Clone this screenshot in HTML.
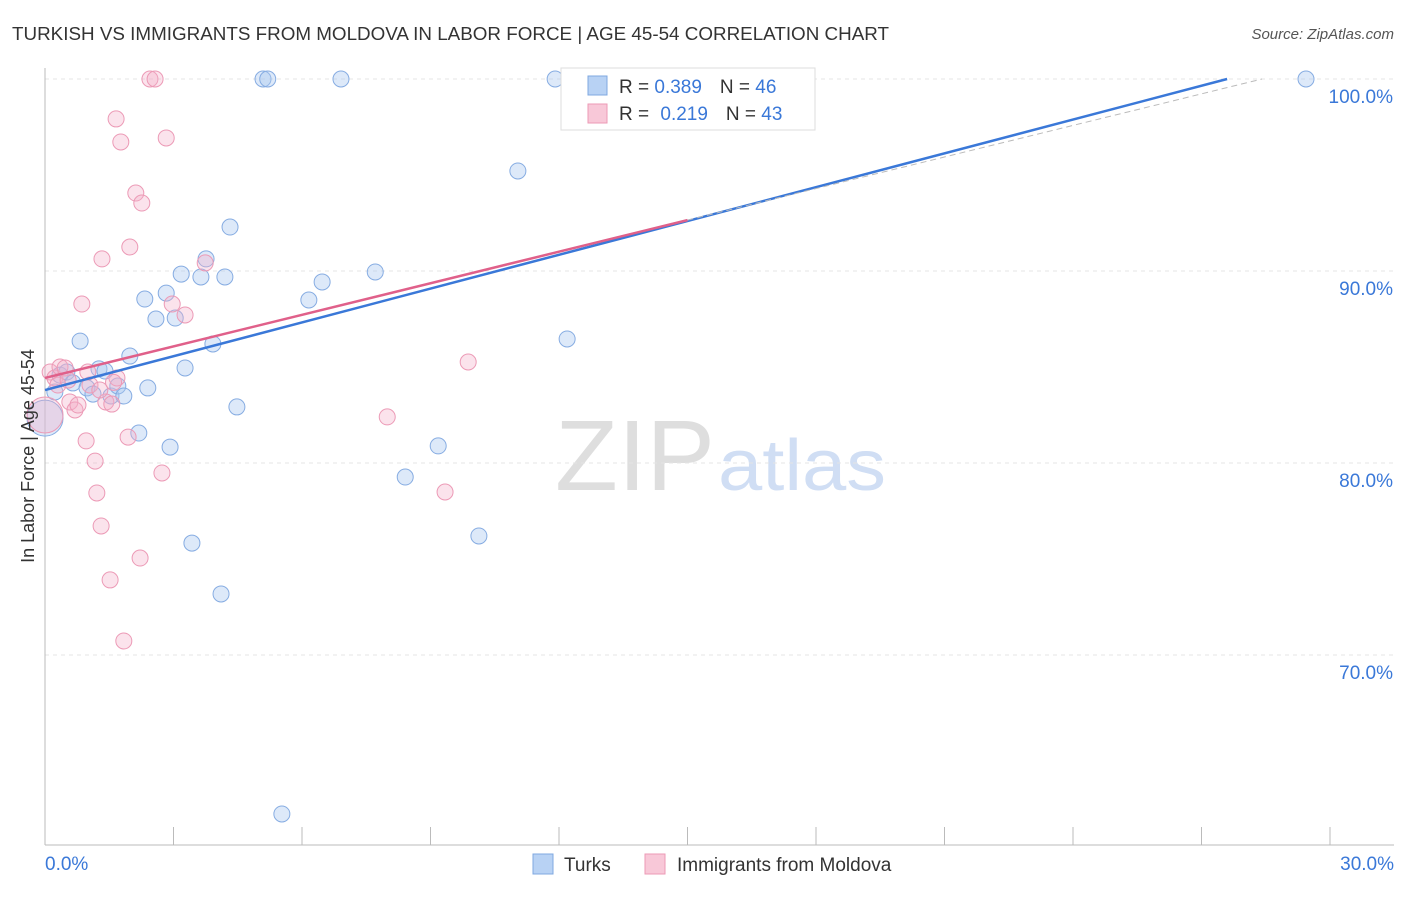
<!DOCTYPE html>
<html><head><meta charset="utf-8"><style>
body{margin:0;background:#fff;font-family:"Liberation Sans",sans-serif}
svg text{font-family:"Liberation Sans",sans-serif}
</style></head><body>
<svg id="chart" width="1406" height="892">
<text x="12" y="40" font-size="18" fill="#333" textLength="877" lengthAdjust="spacingAndGlyphs">TURKISH VS IMMIGRANTS FROM MOLDOVA IN LABOR FORCE | AGE 45-54 CORRELATION CHART</text>
<text x="1394" y="39" font-size="15" fill="#555" font-style="italic" text-anchor="end">Source: ZipAtlas.com</text>
<text x="555" y="490" font-size="100" fill="#dedede" textLength="160" lengthAdjust="spacingAndGlyphs" font-family="Liberation Serif">ZIP</text>
<text x="718" y="490" font-size="72" fill="#d0def4" textLength="168" lengthAdjust="spacingAndGlyphs">atlas</text>
<g id="grid"></g><g id="axes"></g><g id="marks"></g>
<text transform="translate(34,456) rotate(-90)" font-size="18" fill="#333" text-anchor="middle">In Labor Force | Age 45-54</text>
<g>
<rect x="561" y="68" width="254" height="62" fill="#fff" stroke="#ddd"/>
<rect x="588" y="76" width="19" height="19" fill="#b8d2f4" stroke="#7fa8e0"/>
<text x="619" y="93" font-size="19" fill="#333">R = <tspan fill="#3a78d8">0.389</tspan><tspan dx="18">N = </tspan><tspan fill="#3a78d8">46</tspan></text>
<rect x="588" y="104" width="19" height="19" fill="#f8c8d8" stroke="#ec9ab6"/>
<text x="619" y="120" font-size="19" fill="#333">R = <tspan dx="6" fill="#3a78d8">0.219</tspan><tspan dx="18">N = </tspan><tspan fill="#3a78d8">43</tspan></text>
</g>
<g>
<rect x="533" y="854" width="20" height="20" fill="#b8d2f4" stroke="#7fa8e0"/>
<text x="564" y="871" font-size="19" fill="#333">Turks</text>
<rect x="645" y="854" width="20" height="20" fill="#f8c8d8" stroke="#ec9ab6"/>
<text x="677" y="871" font-size="19" fill="#333">Immigrants from Moldova</text>
</g>
</svg>
<script>
const yTicks=[70,80,90,100];
const xTickLabels=["0.0%","30.0%"];
const turksX=[0.00,0.23,0.35,0.51,0.65,0.82,0.98,1.12,1.26,1.40,1.54,1.70,1.84,1.98,2.19,2.33,2.40,2.59,2.83,2.92,3.04,3.18,3.27,3.43,3.64,3.76,3.92,4.11,4.20,4.32,4.48,5.09,5.20,5.53,6.16,6.47,6.91,7.71,8.41,9.18,10.13,11.04,11.91,12.19,12.31,29.44];
const turksY=[82.34,83.70,84.58,84.74,84.17,86.35,83.91,83.59,84.90,84.79,83.49,84.01,83.49,85.57,81.56,88.54,83.91,87.50,88.85,80.83,87.55,89.84,84.95,75.83,89.69,90.63,86.20,73.18,89.69,92.29,82.92,100,100,61.72,88.49,89.43,100,89.95,79.27,80.89,76.20,95.21,100,86.46,100,100];
const moldX=[0.00,0.12,0.23,0.35,0.47,0.58,0.70,0.77,0.86,0.96,1.05,1.17,1.21,1.31,1.33,1.42,1.52,1.56,1.66,1.68,1.77,1.84,1.94,1.98,2.12,2.22,2.26,2.45,2.57,2.73,2.83,2.97,3.27,3.74,7.99,9.34,9.88,13.66,0.30,0.54,1.00,1.28,1.60];
const moldY=[82.50,84.74,84.43,85.00,84.95,83.18,82.76,83.02,88.28,81.15,84.06,80.10,78.44,76.72,90.63,83.18,73.91,83.07,97.92,84.43,96.72,70.73,81.35,91.25,94.06,75.05,93.54,100,100,79.48,96.93,88.28,87.71,90.42,82.40,78.49,85.26,100,84.06,84.32,84.74,83.80,84.20];
const turksTrend=[83.8,0.587];
const moldTrend=[84.43,0.548];
const X=v=>45+v*42.833, Y=v=>79+(100-v)*19.2;
const NS="http://www.w3.org/2000/svg";
function mk(tag,attrs,parent){const e=document.createElementNS(NS,tag);for(const k in attrs)e.setAttribute(k,attrs[k]);document.getElementById(parent).appendChild(e);return e;}
yTicks.forEach(t=>{
 const l=mk('line',{x1:45,x2:1394,y1:Y(t),y2:Y(t),stroke:'#e4e4e4','stroke-dasharray':'4,4'},'grid');
 
 
 const tx=mk('text',{x:1393,y:Y(t)+24,'font-size':19,fill:'#3a78d8','text-anchor':'end'},'axes');
 tx.textContent=t.toFixed(1)+'%';
 
 
});
mk('line',{x1:45,x2:45,y1:68,y2:845,stroke:'#bbb'},'axes');
mk('line',{x1:45,x2:1394,y1:845,y2:845,stroke:'#bbb'},'axes');
for(let i=0;i<=10;i++){const x=X(i*3);const l=mk('line',{x1:x,x2:x,y1:827,y2:845,stroke:'#bbb'},'axes');}
[[0,'start',45],[30,'end',1394]].forEach((d,i)=>{const t=mk('text',{x:d[2],y:870,'font-size':19,fill:'#3a78d8','text-anchor':d[1]},'axes');t.textContent=xTickLabels[i];});
function pts(xs,ys,fill,stroke,name){xs.forEach((x,i)=>{const c=mk('circle',{cx:X(x),cy:Y(ys[i]),r:i==0?18:8,fill:fill,stroke:stroke,'stroke-width':1},'marks');});}
pts(turksX,turksY,'rgba(170,200,240,0.4)','#86ace2','turks-point');
pts(moldX,moldY,'rgba(244,175,200,0.35)','#ec9ab6','moldova-point');
const tEnd=(100-turksTrend[0])/turksTrend[1];
let l=mk('line',{x1:X(0),y1:Y(turksTrend[0]),x2:X(tEnd),y2:Y(100),stroke:'#3a78d8','stroke-width':2.5},'marks');


const mEnd=15, mGEnd=(100-moldTrend[0])/moldTrend[1];
l=mk('line',{x1:X(mEnd),y1:Y(moldTrend[0]+moldTrend[1]*mEnd),x2:X(mGEnd),y2:Y(100),stroke:'#bbb','stroke-width':1,'stroke-dasharray':'6,4'},'marks');


l=mk('line',{x1:X(0),y1:Y(moldTrend[0]),x2:X(mEnd),y2:Y(moldTrend[0]+moldTrend[1]*mEnd),stroke:'#e0608a','stroke-width':2.5},'marks');


</script>
</body></html>
